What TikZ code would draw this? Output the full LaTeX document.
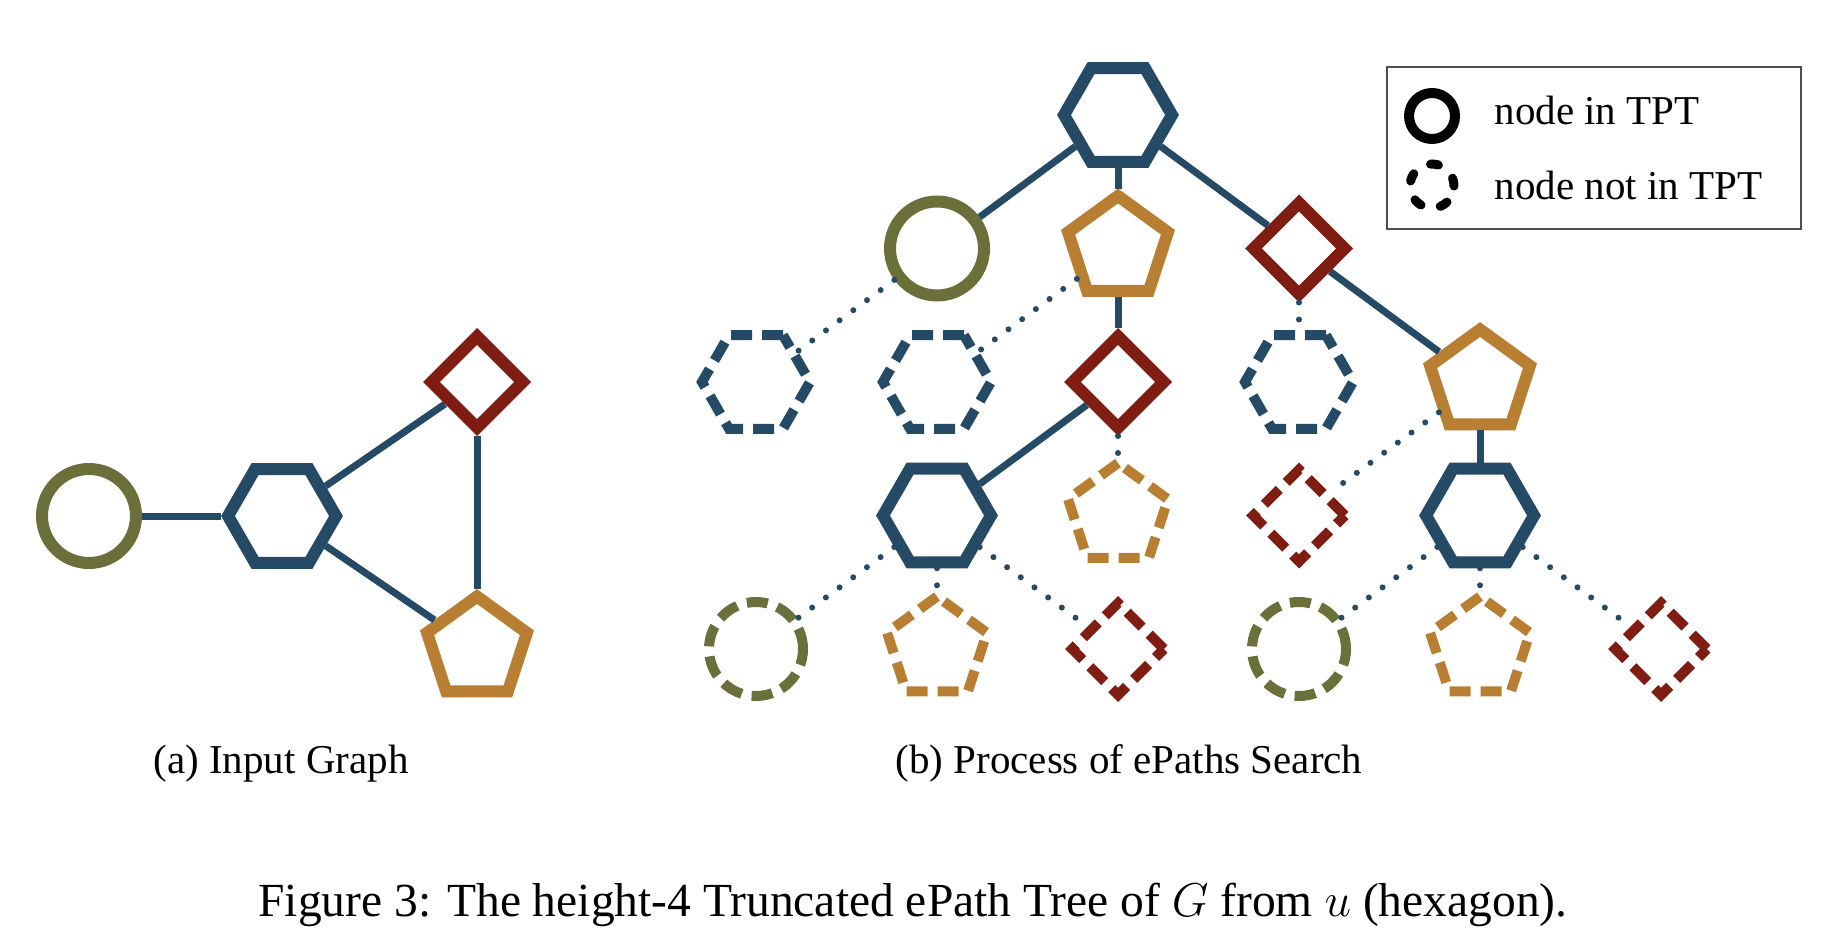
\documentclass[tikz,border=0pt]{standalone}
\usepackage{fix-cm}
\usepackage{fontspec}
\setmainfont{Liberation Serif}
\usepackage{xcolor}
\usepackage{tikz}
\usetikzlibrary{shapes.geometric}
\usetikzlibrary{positioning}

\definecolor{hexblue}{RGB}{36,74,102}
\definecolor{circolive}{RGB}{107,112,58}
\definecolor{pentgold}{RGB}{184,126,49}
\definecolor{diamred}{RGB}{128,29,18}

\begin{document}
\begin{tikzpicture}[
    x = 1pt, y = -1pt,
    node distance = 133.5pt and 181pt,
    on grid,
    font = \fontsize{41}{49}\selectfont]
    \tikzstyle{hexa}=[draw=hexblue,line width=12pt,regular polygon,regular polygon sides=6,minimum size=108pt,inner sep=0pt]
    \tikzstyle{pent}=[draw=pentgold,line width=12pt,regular polygon,regular polygon sides=5,minimum size=105pt,inner sep=0pt]
    \tikzstyle{diam}=[draw=diamred,line width=12pt,diamond,minimum width=96pt,minimum height=96pt,inner sep=0pt]
    \tikzstyle{circ}=[draw=circolive,line width=12pt,circle,minimum size=94pt,inner sep=0pt]
    \tikzstyle{notin}=[line width=10pt,dash pattern=on 21pt off 10pt]
    \tikzstyle{solidlink}=[draw=hexblue,line width=7pt]
    \tikzstyle{dotlink}=[draw=hexblue,line width=6pt,line cap=round,dash pattern=on 0pt off 17pt]
    \useasboundingbox (0,0) rectangle (1827,936);
    % (a) input graph
    \node[circ] (gc) at (89,516) {};
    \node[hexa] (gh) at (282,516) {};
    \node[diam] (gd) at (477,382) {};
    \node[pent] (gp) at (477,649) {};
    \path[solidlink]
    (gh) edge (gc)
         edge (gd)
         edge (gp)
    (gd) edge (gp) ;
    % (b) tree
    \node[hexa] (root) at (1118,115) {};
    \node[circ] (c1) [below left=of root] {};
    \node[pent] (p1) [below=of root] {};
    \node[diam] (d1) [below right=of root] {};
    \node[hexa,notin] (h2a) [below left=of c1] {};
    \node[hexa,notin] (h2b) [below=of c1] {};
    \node[diam] (d2) [below=of p1] {};
    \node[hexa,notin] (h2c) [below=of d1] {};
    \node[pent] (p2) [below right=of d1] {};
    \node[hexa] (h3a) [below=of h2b] {};
    \node[pent,notin] (p3) [below=of d2] {};
    \node[diam,notin] (d3) [below=of h2c] {};
    \node[hexa] (h3b) [below=of p2] {};
    \node[circ,notin] (c4a) [below left=of h3a] {};
    \node[pent,notin] (p4a) [below=of h3a] {};
    \node[diam,notin] (d4a) [below right=of h3a] {};
    \node[circ,notin] (c4b) [below left=of h3b] {};
    \node[pent,notin] (p4b) [below=of h3b] {};
    \node[diam,notin] (d4b) [below right=of h3b] {};
    \path[solidlink]
    (root) edge (c1)
           edge (p1)
           edge (d1)
    (p1) edge (d2)
    (d1) edge (p2)
    (d2) edge (h3a)
    (p2) edge (h3b) ;
    \path[dotlink]
    (c1) edge (h2a)
    (p1) edge (h2b)
    (d1) edge (h2c)
    (d2) edge (p3)
    (p2) edge (d3)
    (h3a) edge (c4a)
          edge (p4a)
          edge (d4a)
    (h3b) edge (c4b)
          edge (p4b)
          edge (d4b) ;
    % legend
    \node[draw=black!70,line width=1.5pt,minimum width=414pt,minimum height=162pt] (legend) at (1594,148) {};
    \node[draw,circle,line width=10pt,minimum size=46pt,inner sep=0pt] (keyin) at (1432,116) {};
    \node[draw,circle,line width=9pt,line cap=round,dash pattern=on 8pt off 20pt,minimum size=44pt,inner sep=0pt] (keynot) at (1432,186) {};
    \node[anchor=base west] (txtin) at (1491,125) {node in TPT};
    \node[anchor=base west] (txtnot) at (1491,200) {node not in TPT};
    % captions
    \node[anchor=base] (capa) at (281,773) {(a) Input Graph};
    \node[anchor=base] (capb) at (1129,773) {(b) Process of ePaths Search};
    \node[anchor=base,font=\fontsize{47.5}{57}\selectfont] (fig) at (913,916)
      {Figure 3: The height-4 Truncated ePath Tree of $G$ from $u$ (hexagon).};
\end{tikzpicture}
\end{document}
